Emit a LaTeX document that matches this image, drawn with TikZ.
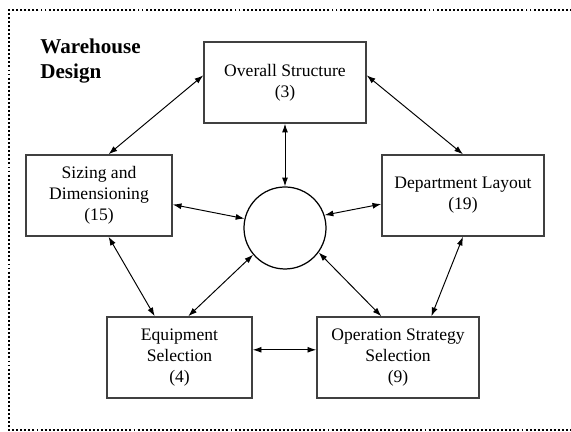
\documentclass[tikz,border=0pt]{standalone}
\usepackage{fontspec}
\setmainfont{Liberation Serif}
\usetikzlibrary{arrows.meta}

\tikzset{
  caja/.style={draw=black!75, line width=0.8pt, minimum height=1.62cm, align=center, inner sep=2pt},
  flecha/.style={{Latex[length=5pt,width=3.4pt]}-{Latex[length=5pt,width=3.4pt]}, line width=0.55pt},
}

\begin{document}
\begin{tikzpicture}
            \useasboundingbox (0,0) rectangle (11.42,8.64);

            % Marco
            \draw[line width=1.1pt, dash pattern=on 1.1pt off 1.2pt] (11.6,8.44) -- (0.18,8.44) -- (0.18,0.04) -- (11.6,0.04);

            % Titulo
            \node[anchor=north west, align=left, inner sep=0pt, font=\large\bfseries] (titulo) at (0.80,7.86) {Warehouse\\Design};

            % Cajas
            \node[caja, minimum width=3.24cm] (estructura) at (5.70,6.99) {Overall Structure\\(3)};
            \node[caja, minimum width=2.92cm] (dimension) at (1.98,4.73) {Sizing and\\Dimensioning\\(15)};
            \node[caja, minimum width=3.24cm] (departamento) at (9.26,4.73) {Department Layout\\(19)};
            \node[caja, minimum width=2.90cm] (equipo) at (3.59,1.49) {Equipment\\Selection\\(4)};
            \node[caja, minimum width=3.24cm] (operacion) at (7.96,1.49) {Operation Strategy\\Selection\\(9)};

            % Centro
            \node[draw, circle, minimum size=1.64cm, line width=0.7pt] (centro) at (5.70,4.08) {};

            % Flechas
            \draw[flecha] (estructura.175) -- (dimension.77);
            \draw[flecha] (estructura.5) -- (departamento.north);
            \draw[flecha] (estructura.south) -- (centro.north);
            \draw[flecha] (dimension.-7) -- (centro.167);
            \draw[flecha] (departamento.186) -- (centro.18);
            \draw[flecha] (dimension.-77) -- (equipo.121);
            \draw[flecha] (centro.220) -- (equipo.78);
            \draw[flecha] (centro.324) -- (operacion.112);
            \draw[flecha] (departamento.south) -- (operacion.51);
            \draw[flecha] (equipo.6) -- (equipo.6 -| operacion.west);
\end{tikzpicture}
\end{document}
